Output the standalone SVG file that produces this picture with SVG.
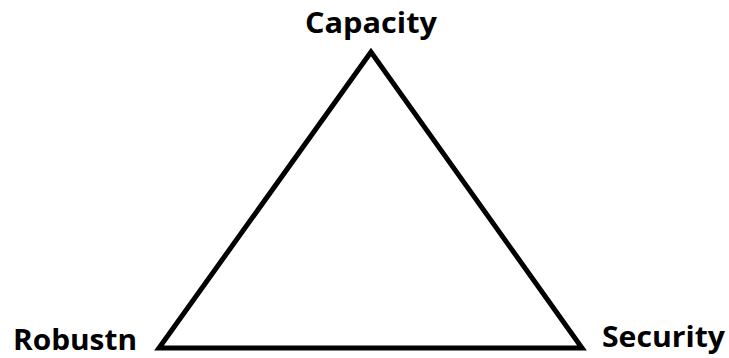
<svg xmlns="http://www.w3.org/2000/svg" width="729" height="358" viewBox="0 0 729 358">
<style>
.lbl{font-family:"Open Sans","Liberation Sans",sans-serif;font-weight:bold;font-size:28px;fill:#000}
.edge{fill:none;stroke:#000;stroke-width:5;stroke-linejoin:miter}
</style>
<rect width="729" height="358" fill="#fff"/>
<g id="connectors">
<polygon class="edge" points="371,52 159,348 582,348"/>
</g>
<g id="capacity"><text class="lbl" x="305" y="33" textLength="132" lengthAdjust="spacingAndGlyphs">Capacity</text></g>
<g id="robustn"><text class="lbl" x="13" y="350" textLength="124" lengthAdjust="spacingAndGlyphs">Robustn</text></g>
<g id="security"><text class="lbl" x="602" y="347" textLength="123" lengthAdjust="spacingAndGlyphs">Security</text></g>
</svg>
